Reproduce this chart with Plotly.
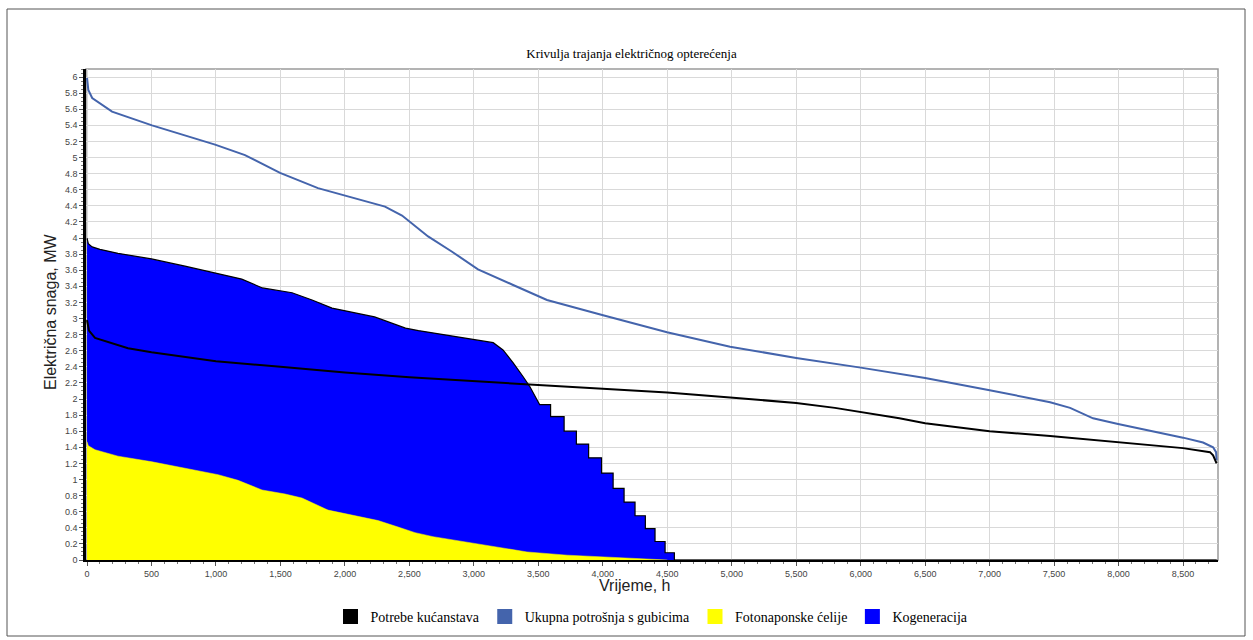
import plotly.graph_objects as go

# ---------------- data ----------------
hours_kog = [0, 10, 40, 100, 240, 500, 760, 1016, 1200, 1360, 1590, 1745, 1900, 2230, 2470, 2570,
             2830, 3120, 3150, 3226, 3305, 3381, 3436, 3500, 3510,
             3595, 3595, 3700, 3700, 3795, 3795, 3890, 3890, 3990, 3990, 4080, 4080,
             4165, 4165, 4250, 4250, 4330, 4330, 4405, 4405, 4483, 4483, 4555, 4555, 8760]
kogeneracija = [4.00, 3.93, 3.89, 3.86, 3.81, 3.74, 3.65, 3.56, 3.49, 3.38, 3.32, 3.23, 3.13, 3.02, 2.88, 2.85,
                2.78, 2.71, 2.70, 2.61, 2.45, 2.28, 2.15, 1.96, 1.93,
                1.93, 1.78, 1.78, 1.60, 1.60, 1.44, 1.44, 1.27, 1.27, 1.08, 1.08, 0.89,
                0.89, 0.72, 0.72, 0.55, 0.55, 0.39, 0.39, 0.23, 0.23, 0.09, 0.09, 0.0, 0.0]

hours_pv = [0, 10, 62, 240, 504, 760, 1016, 1171, 1357, 1536, 1667, 1869, 2055, 2257, 2412, 2544,
            2683, 2994, 3412, 3723, 4110, 4390, 4500]
fotonaponske = [1.47, 1.42, 1.37, 1.29, 1.22, 1.14, 1.06, 0.99, 0.87, 0.82, 0.77, 0.62, 0.56, 0.49, 0.41, 0.34,
                0.29, 0.21, 0.10, 0.06, 0.03, 0.01, 0.0]

hours_tot = [0, 10, 40, 194, 504, 993, 1225, 1497, 1791, 2001, 2311, 2443, 2645, 2831, 3032, 3300,
             3567, 4002, 4498, 4987, 5500, 6000, 6500, 7000, 7300, 7469, 7624, 7802, 7996, 8244,
             8500, 8655, 8733, 8756, 8760]
ukupna = [5.99, 5.84, 5.74, 5.57, 5.40, 5.16, 5.03, 4.81, 4.62, 4.53, 4.39, 4.28, 4.02, 3.83, 3.61, 3.42,
          3.23, 3.04, 2.83, 2.65, 2.51, 2.39, 2.26, 2.11, 2.02, 1.96, 1.89, 1.76, 1.69, 1.61,
          1.52, 1.46, 1.40, 1.34, 1.24]

hours_hh = [0, 15, 62, 318, 500, 1000, 1500, 2000, 2500, 3048, 3500, 4002, 4500, 4987, 5500, 5800,
            6000, 6300, 6500, 7000, 7469, 7996, 8500, 8709, 8733, 8760]
potrebe = [2.98, 2.85, 2.76, 2.63, 2.58, 2.47, 2.40, 2.33, 2.27, 2.22, 2.17, 2.13, 2.08, 2.02, 1.95, 1.89,
           1.84, 1.76, 1.70, 1.60, 1.54, 1.46, 1.39, 1.34, 1.30, 1.20]

series_names = ["Potrebe kućanstava", "Ukupna potrošnja s gubicima", "Fotonaponske ćelije", "Kogeneracija"]
series_colors = ["#000000", "#4464AC", "#FFFF00", "#0000FF"]

title_text = "Krivulja trajanja električnog opterećenja"
x_title = "Vrijeme, h"
y_title = "Električna snaga, MW"

# ---------------- figure ----------------
fig = go.Figure()

fig.add_trace(go.Scatter(x=hours_kog, y=kogeneracija, mode="lines", fill="tozeroy",
                         fillcolor=series_colors[3], line=dict(color="#000000", width=1.2),
                         showlegend=False, hoverinfo="skip"))
fig.add_trace(go.Scatter(x=hours_pv, y=fotonaponske, mode="lines", fill="tozeroy",
                         fillcolor=series_colors[2], line=dict(color=series_colors[2], width=0.5),
                         showlegend=False, hoverinfo="skip"))
fig.add_trace(go.Scatter(x=hours_tot, y=ukupna, mode="lines",
                         line=dict(color=series_colors[1], width=2), showlegend=False))
fig.add_trace(go.Scatter(x=hours_hh, y=potrebe, mode="lines",
                         line=dict(color=series_colors[0], width=2), showlegend=False))

# legend entries (square swatches)
for name, col in zip(series_names, series_colors):
    fig.add_trace(go.Scatter(x=[None], y=[None], mode="markers", name=name,
                             marker=dict(symbol="square", size=15, color=col,
                                         line=dict(width=0))))

fig.update_layout(
    width=1253, height=640,
    margin=dict(l=86, r=35, t=69, b=80, autoexpand=False),
    paper_bgcolor="white", plot_bgcolor="white",
    title=dict(text=title_text, x=0.504, xanchor="center", y=1 - 53 / 640, yanchor="middle",
               font=dict(family="Liberation Serif", size=13, color="#000000")),
    legend=dict(orientation="h", x=0.5, xanchor="center", y=(560 - 617) / 491, yanchor="middle",
                font=dict(family="Liberation Serif", size=14, color="#000000"),
                itemwidth=30, tracegroupgap=0, bgcolor="rgba(0,0,0,0)"),
    showlegend=True,
)

fig.update_xaxes(range=[-8, 8771], tick0=0, dtick=500, tickformat=",d",
                 showgrid=True, gridcolor="#d9d9d9", gridwidth=1,
                 showline=True, linecolor="#000000", linewidth=2,
                 ticks="outside", ticklen=4, tickcolor="#555555",
                 tickfont=dict(family="Liberation Sans", size=9, color="#444444"),
                 minor=dict(dtick=100, ticks="outside", ticklen=2, tickcolor="#777777", showgrid=False),
                 zeroline=False, automargin=False)
fig.update_yaxes(range=[0, 6.1], tick0=0, dtick=0.2,
                 showgrid=True, gridcolor="#d9d9d9", gridwidth=1,
                 showline=True, linecolor="#000000", linewidth=2.5,
                 ticks="outside", ticklen=4, tickcolor="#555555",
                 tickfont=dict(family="Liberation Sans", size=9, color="#444444"),
                 minor=dict(dtick=0.05, ticks="outside", ticklen=2, tickcolor="#777777", showgrid=False),
                 zeroline=False, automargin=False)

# axis titles as annotations
fig.add_annotation(text=x_title, xref="paper", yref="paper", x=(634 - 86) / 1132, y=(560 - 575) / 491,
                   showarrow=False, xanchor="center", yanchor="top",
                   font=dict(family="Liberation Sans", size=16, color="#222222"))
fig.add_annotation(text=y_title, xref="paper", yref="paper", x=(50 - 86) / 1132, y=(560 - 312) / 491,
                   showarrow=False, xanchor="center", yanchor="middle", textangle=-90,
                   font=dict(family="Liberation Sans", size=16, color="#222222"))

# plot frame (top/right gray) and outer border
fig.add_shape(type="rect", xref="paper", yref="paper", x0=0, x1=1, y0=0, y1=1,
              line=dict(color="#9a9a9a", width=1.5), layer="below")
fig.add_shape(type="rect", xref="paper", yref="paper",
              x0=(7 - 86) / 1132, x1=(1245 - 86) / 1132,
              y0=(560 - 636) / 491, y1=(560 - 9) / 491,
              line=dict(color="#555555", width=1), layer="below")

fig.write_html("out.html", config={"displayModeBar": False},
               post_script="document.body.style.margin='0';document.body.style.overflow='hidden';")
